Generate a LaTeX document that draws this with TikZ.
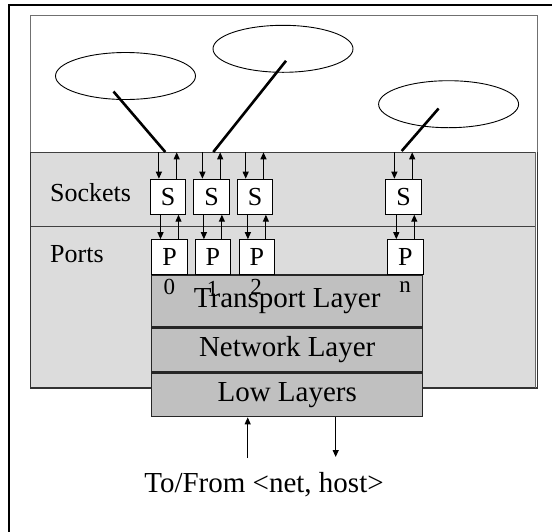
\documentclass[tikz,border=0pt]{standalone}
\usepackage{fontspec}
\setmainfont{Liberation Serif}
\usetikzlibrary{arrows.meta,shapes.geometric}
\definecolor{bandgray}{HTML}{DCDCDC}
\definecolor{layergray}{HTML}{C0C0C0}
\definecolor{framegray}{HTML}{707070}
\begin{document}
\begin{tikzpicture}[x=1pt,y=-1pt,
  tip/.style={-{Triangle[length=7pt,width=6pt]}, line width=1.1pt},
  wire/.style={line width=2.6pt},
  app/.style={draw, ellipse, line width=0.9pt, minimum width=140pt, minimum height=47pt, inner sep=0pt},
  unit/.style={draw, fill=white, line width=1pt, minimum width=35.5pt, minimum height=35pt, inner sep=0pt, font=\fontsize{26}{26}\selectfont},
  layer/.style={draw=black!85, fill=layergray, line width=1.2pt, minimum width=271pt, inner sep=0pt, font=\fontsize{29}{29}\selectfont},
  lbl/.style={inner sep=0pt, font=\fontsize{26}{26}\selectfont},
  num/.style={inner sep=0pt, font=\fontsize{23}{23}\selectfont}]
\clip (0,0) rectangle (552,531);

% host frame
\draw[line width=2.6pt] (9,560) -- (9,5) -- (580,5);

% application area and kernel bands
\draw[framegray, line width=1.3pt] (30.5,15.7) rectangle (537.7,388);
\fill[bandgray] (30.5,152.3) rectangle (536.3,388);
\draw[black!75, line width=0.9pt] (30.5,152.3) -- (536.3,152.3);
\draw[black!75, line width=0.9pt] (30.5,226.7) -- (536.3,226.7);
\draw[black!80, line width=1.3pt] (30.5,152.3) -- (30.5,388) -- (537.7,388) -- (537.7,152.3);
\draw[black!60, line width=0.8pt] (535.3,152.3) -- (535.3,388);

\node[lbl, anchor=west] (sockets) at (50,193) {Sockets};
\node[lbl, anchor=west] (ports) at (50,254) {Ports};

% applications
\node[app] (e1) at (125.5,76) {};
\node[app] (e2) at (283,48.8) {};
\node[app] (e3) at (448.6,104.2) {};

% layer stack
\node[layer, minimum height=51.7pt] (transport) at (287.2,300.9) {Transport Layer};
\node[layer, minimum height=44pt, anchor=north] (network) at (transport.south) {Network Layer};
\node[layer, minimum height=43.6pt, anchor=north] (low) at (network.south) {Low Layers};

% sockets and ports
\node[unit] (s1) at (168.2,196.7) {S};
\node[unit] (s2) at (211.7,196.7) {S};
\node[unit] (s3) at (255,196.7) {S};
\node[unit] (s4) at (403.7,196.7) {S};
\node[unit] (p1) at (169.5,257.2) {P};
\node[unit] (p2) at (212.9,257.2) {P};
\node[unit] (p3) at (256.9,257.2) {P};
\node[unit] (p4) at (405.3,257.2) {P};

\node[num] (n0) at (169.3,287) {0};
\node[num] (n1) at (212.7,289) {1};
\node[num] (n2) at (256.2,287) {2};
\node[num] (nn) at (405,287) {n};

% links from applications to sockets
\coordinate (bandtop) at (0,152.3);
\coordinate (w1) at (165.3,152);
\coordinate (w2) at (213.3,152);
\coordinate (w3) at (401.7,151);
\draw[wire] ([shift={(-12,15.5)}]e1.center) -- (w1);
\draw[wire] ([shift={(3,12)}]e2.center) -- (w2);
\draw[wire] ([shift={(-10,4.3)}]e3.center) -- (w3);

% socket and port data flows
\foreach \s/\p in {s1/p1, s2/p2, s3/p3, s4/p4} {
  \draw[tip] ([xshift=-9.3pt]\s.north |- bandtop) -- ([xshift=-9.3pt]\s.north);
  \draw[tip] ([xshift=8.5pt]\s.north) -- ([xshift=8.5pt]\s.north |- bandtop);
  \draw[tip] ([xshift=-9pt]\p.north |- \s.south) -- ([xshift=-9pt]\p.north);
  \draw[tip] ([xshift=9pt]\p.north) -- ([xshift=9pt]\p.north |- \s.south);
}

% network access
\coordinate (inend) at (247.7,458);
\coordinate (outend) at (335.7,457);
\draw[tip] (inend) -- (inend |- low.south);
\draw[tip] (outend |- low.south) -- (outend);
\node[font=\fontsize{29}{29}\selectfont, inner sep=0pt] (dest) at (264,485) {To/From <net, host>};
\end{tikzpicture}
\end{document}
